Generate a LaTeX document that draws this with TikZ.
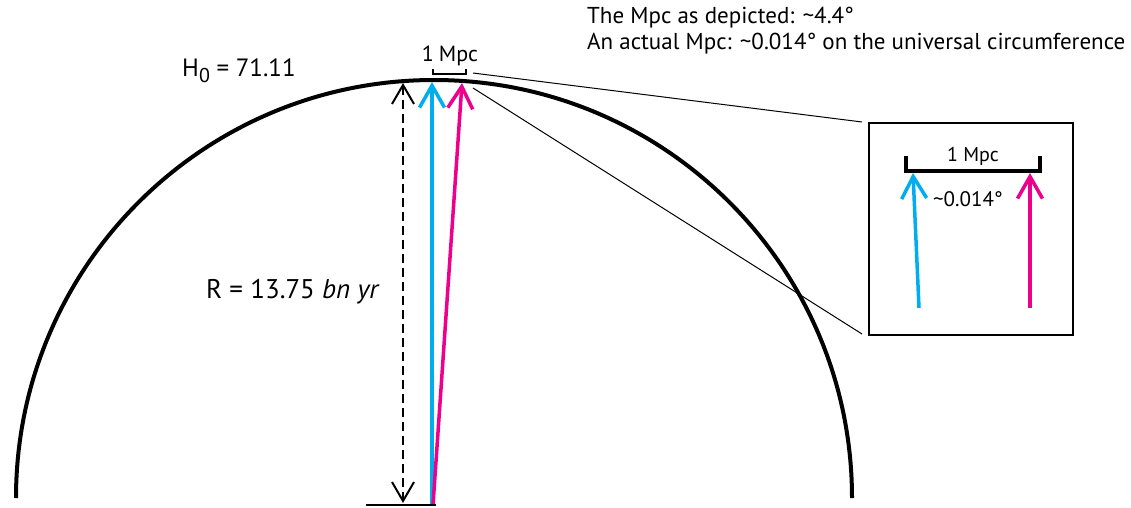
\documentclass[tikz,border=0pt]{standalone}
\usepackage{fontspec}
\setmainfont{PT Sans}
\usetikzlibrary{arrows.meta}
\definecolor{cy}{RGB}{0,174,239}
\definecolor{mg}{RGB}{236,0,140}
\begin{document}
\begin{tikzpicture}[x=1pt,y=-1pt,
  bigtip/.style={-{Straight Barb[length=22pt,width=25pt]}},
  blk/.style={{Straight Barb[length=19pt,width=22pt]}-{Straight Barb[length=19pt,width=22pt]}},
  lbl/.style={inner sep=0pt, font=\fontsize{23}{27}\selectfont},
  sm/.style={inner sep=0pt, font=\fontsize{22}{26}\selectfont}]
\useasboundingbox (0,0) rectangle (1131,508);
% main arc
\coordinate (L) at (16,498);
\draw[line width=4pt] (L) arc[start angle=180, end angle=360, radius=418];
% origin and arrows
\coordinate (O) at (432,505);
\coordinate (Om) at (433,505);
\coordinate (Tb) at (432,82);
\coordinate (Tm) at (462,83);
\draw[cy, line width=3.5pt, bigtip] (O) -- (Tb);
\draw[mg, line width=3.5pt, bigtip] (Om) -- (Tm);
% radius dashed
\coordinate (Dt) at (403,83);
\coordinate (Db) at (403,503);
\draw[line width=2pt, dash pattern=on 9pt off 5pt, blk] (Dt) -- (Db);
\coordinate (B1) at (366,505);
\coordinate (B2) at (436,505);
\draw[line width=2pt] (B1) -- (B2);
% top bracket
\coordinate (k1) at (433,69);
\coordinate (k2) at (466,69);
\draw[line width=2pt] (k1) -- ++(0,5) -| (k2);
\node[sm, anchor=base] (mpc) at (450,62) {1\hspace{5pt}Mpc};
% labels
\node[inner sep=0pt, font=\fontsize{25}{29}\selectfont, anchor=base west] (h0) at (182,77) {H\raisebox{-6pt}{\fontsize{20}{20}\selectfont 0} = 71.11};
\node[inner sep=0pt, font=\fontsize{27}{31}\selectfont, anchor=base west] (R) at (206,298) {R = 13.75 \textit{bn yr}};
\node[lbl, anchor=base west] (t1) at (587,24) {The Mpc as depicted: \textasciitilde4.4°};
\node[lbl, anchor=base west] (t2) at (587,50) {An actual Mpc: \textasciitilde0.014° on the universal circumference};
% inset box
\node[draw, line width=2pt, minimum width=204pt, minimum height=212pt, inner sep=0pt, anchor=north west] (box) at (868,122) {};
\coordinate (z1) at (473,73);
\coordinate (z2) at (473,88);
\coordinate (e1) at (862,122);
\coordinate (e2) at (862,334);
\draw[line width=1pt] (z1) -- (e1);
\draw[line width=1pt] (z2) -- (e2);
% inset bracket
\coordinate (q1) at (906,156);
\coordinate (q2) at (1040,156);
\draw[line width=4pt] (q1) -- ++(0,15) -| (q2);
\node[inner sep=0pt, font=\fontsize{20}{24}\selectfont, anchor=base] (mpc2) at (973,161) {1 Mpc};
\node[inner sep=0pt, font=\fontsize{21}{24}\selectfont, anchor=base] (ang) at (968,206) {\textasciitilde0.014°};
\coordinate (ib0) at (919,308);
\coordinate (ib1) at (913,173);
\coordinate (im0) at (1030,308);
\coordinate (im1) at (1030,173);
\draw[cy, line width=3.5pt, bigtip] (ib0) -- (ib1);
\draw[mg, line width=3.5pt, bigtip] (im0) -- (im1);
\end{tikzpicture}
\end{document}
